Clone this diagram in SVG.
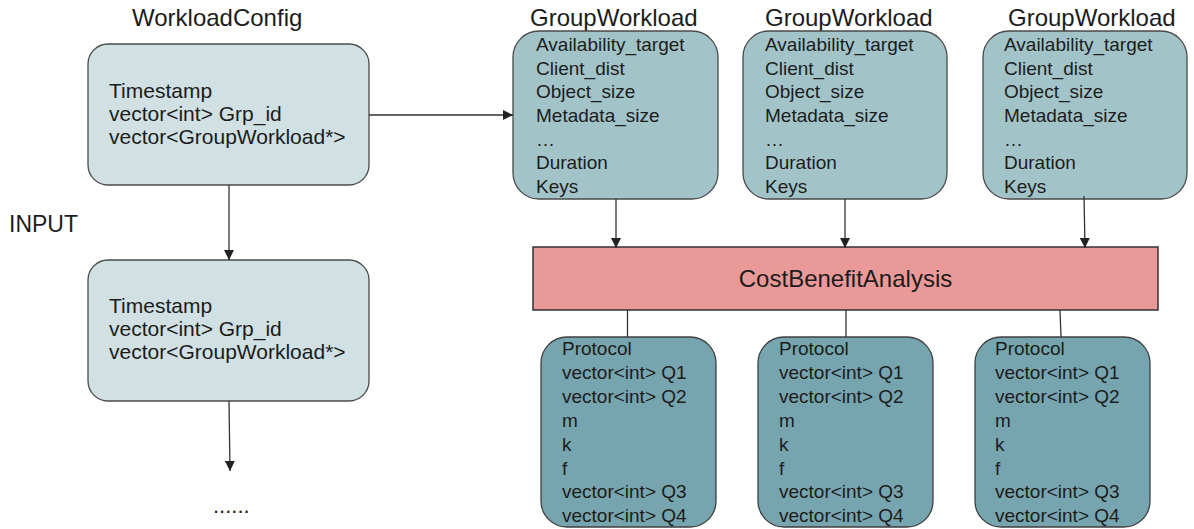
<svg xmlns="http://www.w3.org/2000/svg" width="1194" height="529" viewBox="0 0 1194 529">
  <defs>
    <marker id="arrow" viewBox="0 0 10 10" refX="10" refY="5" markerWidth="10" markerHeight="10" markerUnits="userSpaceOnUse" orient="auto">
      <path d="M0,0 L10,5 L0,10 z" fill="#222"/>
    </marker>
    <style>
      text { font-family: "Liberation Sans", Arial, sans-serif; fill: #1c1c1c; }
      .title { font-size: 24px; }
      .cfg { fill: #d0e0e3; stroke: #4a4a4a; stroke-width: 1.3; }
      .grp { fill: #a2c4c9; stroke: #4a4a4a; stroke-width: 1.3; }
      .proto { fill: #76a5af; stroke: #3f3f3f; stroke-width: 1.3; }
      .cba { fill: #ea9999; stroke: #333; stroke-width: 1.5; }
      .cfg-text { font-size: 21px; }
      .grp-text { font-size: 19px; }
      .proto-text { font-size: 19px; }
      .edge { stroke: #333; stroke-width: 1.3; fill: none; }
    </style>
  </defs>

  <rect width="1194" height="529" fill="#ffffff"/>

  <!-- labels -->
  <text class="title" x="132" y="26">WorkloadConfig</text>
  <text x="9" y="232" style="font-size:23px">INPUT</text>
  <text x="213" y="513" style="font-size:22px">......</text>

  <!-- workload config, first snapshot -->
  <g id="config1">
    <rect class="cfg" x="88" y="44" width="281" height="141" rx="20"/>
    <text class="cfg-text" x="109" y="98">Timestamp</text>
    <text class="cfg-text" x="109" y="121">vector&lt;int&gt; Grp_id</text>
    <text class="cfg-text" x="109" y="144">vector&lt;GroupWorkload*&gt;</text>
  </g>

  <!-- workload config, next snapshot -->
  <g id="config2">
    <rect class="cfg" x="88" y="260" width="281" height="141" rx="20"/>
    <text class="cfg-text" x="109" y="313">Timestamp</text>
    <text class="cfg-text" x="109" y="336">vector&lt;int&gt; Grp_id</text>
    <text class="cfg-text" x="109" y="359">vector&lt;GroupWorkload*&gt;</text>
  </g>

  <!-- group workloads -->
  <g id="group1">
    <text class="title" x="530" y="26">GroupWorkload</text>
    <rect class="grp" x="513" y="31" width="205" height="168" rx="26"/>
    <text class="grp-text" x="536" y="51">Availability_target</text>
    <text class="grp-text" x="536" y="75">Client_dist</text>
    <text class="grp-text" x="536" y="98">Object_size</text>
    <text class="grp-text" x="536" y="122">Metadata_size</text>
    <text class="grp-text" x="536" y="146">…</text>
    <text class="grp-text" x="536" y="169">Duration</text>
    <text class="grp-text" x="536" y="193">Keys</text>
  </g>
  <g id="group2">
    <text class="title" x="765" y="26">GroupWorkload</text>
    <rect class="grp" x="743" y="31" width="204" height="168" rx="26"/>
    <text class="grp-text" x="765" y="51">Availability_target</text>
    <text class="grp-text" x="765" y="75">Client_dist</text>
    <text class="grp-text" x="765" y="98">Object_size</text>
    <text class="grp-text" x="765" y="122">Metadata_size</text>
    <text class="grp-text" x="765" y="146">…</text>
    <text class="grp-text" x="765" y="169">Duration</text>
    <text class="grp-text" x="765" y="193">Keys</text>
  </g>
  <g id="group3">
    <text class="title" x="1008" y="26">GroupWorkload</text>
    <rect class="grp" x="983" y="31" width="204" height="168" rx="26"/>
    <text class="grp-text" x="1004" y="51">Availability_target</text>
    <text class="grp-text" x="1004" y="75">Client_dist</text>
    <text class="grp-text" x="1004" y="98">Object_size</text>
    <text class="grp-text" x="1004" y="122">Metadata_size</text>
    <text class="grp-text" x="1004" y="146">…</text>
    <text class="grp-text" x="1004" y="169">Duration</text>
    <text class="grp-text" x="1004" y="193">Keys</text>
  </g>

  <!-- analysis stage -->
  <g id="costbenefit">
    <rect class="cba" x="533" y="247" width="625" height="63"/>
    <text x="845.5" y="287" text-anchor="middle" style="font-size:24px">CostBenefitAnalysis</text>
  </g>

  <!-- protocol outputs -->
  <g id="protocol1">
    <rect class="proto" x="541" y="337" width="175" height="190" rx="26"/>
    <text class="proto-text" x="562" y="355">Protocol</text>
    <text class="proto-text" x="562" y="379">vector&lt;int&gt; Q1</text>
    <text class="proto-text" x="562" y="403">vector&lt;int&gt; Q2</text>
    <text class="proto-text" x="562" y="427">m</text>
    <text class="proto-text" x="562" y="451">k</text>
    <text class="proto-text" x="562" y="475">f</text>
    <text class="proto-text" x="562" y="498">vector&lt;int&gt; Q3</text>
    <text class="proto-text" x="562" y="522">vector&lt;int&gt; Q4</text>
  </g>
  <g id="protocol2">
    <rect class="proto" x="758" y="337" width="175" height="190" rx="26"/>
    <text class="proto-text" x="779" y="355">Protocol</text>
    <text class="proto-text" x="779" y="379">vector&lt;int&gt; Q1</text>
    <text class="proto-text" x="779" y="403">vector&lt;int&gt; Q2</text>
    <text class="proto-text" x="779" y="427">m</text>
    <text class="proto-text" x="779" y="451">k</text>
    <text class="proto-text" x="779" y="475">f</text>
    <text class="proto-text" x="779" y="498">vector&lt;int&gt; Q3</text>
    <text class="proto-text" x="779" y="522">vector&lt;int&gt; Q4</text>
  </g>
  <g id="protocol3">
    <rect class="proto" x="975" y="337" width="175" height="190" rx="26"/>
    <text class="proto-text" x="995" y="355">Protocol</text>
    <text class="proto-text" x="995" y="379">vector&lt;int&gt; Q1</text>
    <text class="proto-text" x="995" y="403">vector&lt;int&gt; Q2</text>
    <text class="proto-text" x="995" y="427">m</text>
    <text class="proto-text" x="995" y="451">k</text>
    <text class="proto-text" x="995" y="475">f</text>
    <text class="proto-text" x="995" y="498">vector&lt;int&gt; Q3</text>
    <text class="proto-text" x="995" y="522">vector&lt;int&gt; Q4</text>
  </g>

  <!-- connectors -->
  <g id="connectors">
    <line class="edge" x1="369" y1="115" x2="513" y2="115" marker-end="url(#arrow)"/>
    <line class="edge" x1="229" y1="185" x2="229" y2="260" marker-end="url(#arrow)"/>
    <line class="edge" x1="229" y1="401" x2="230" y2="471" marker-end="url(#arrow)"/>
    <line class="edge" x1="616" y1="199" x2="616" y2="248" marker-end="url(#arrow)"/>
    <line class="edge" x1="845" y1="199" x2="845" y2="248" marker-end="url(#arrow)"/>
    <line class="edge" x1="1084" y1="196" x2="1085" y2="248" marker-end="url(#arrow)"/>
    <line class="edge" x1="627.5" y1="310" x2="627.5" y2="337"/>
    <line class="edge" x1="846" y1="310" x2="846" y2="337"/>
    <line class="edge" x1="1060" y1="310" x2="1061" y2="337"/>
  </g>
</svg>
